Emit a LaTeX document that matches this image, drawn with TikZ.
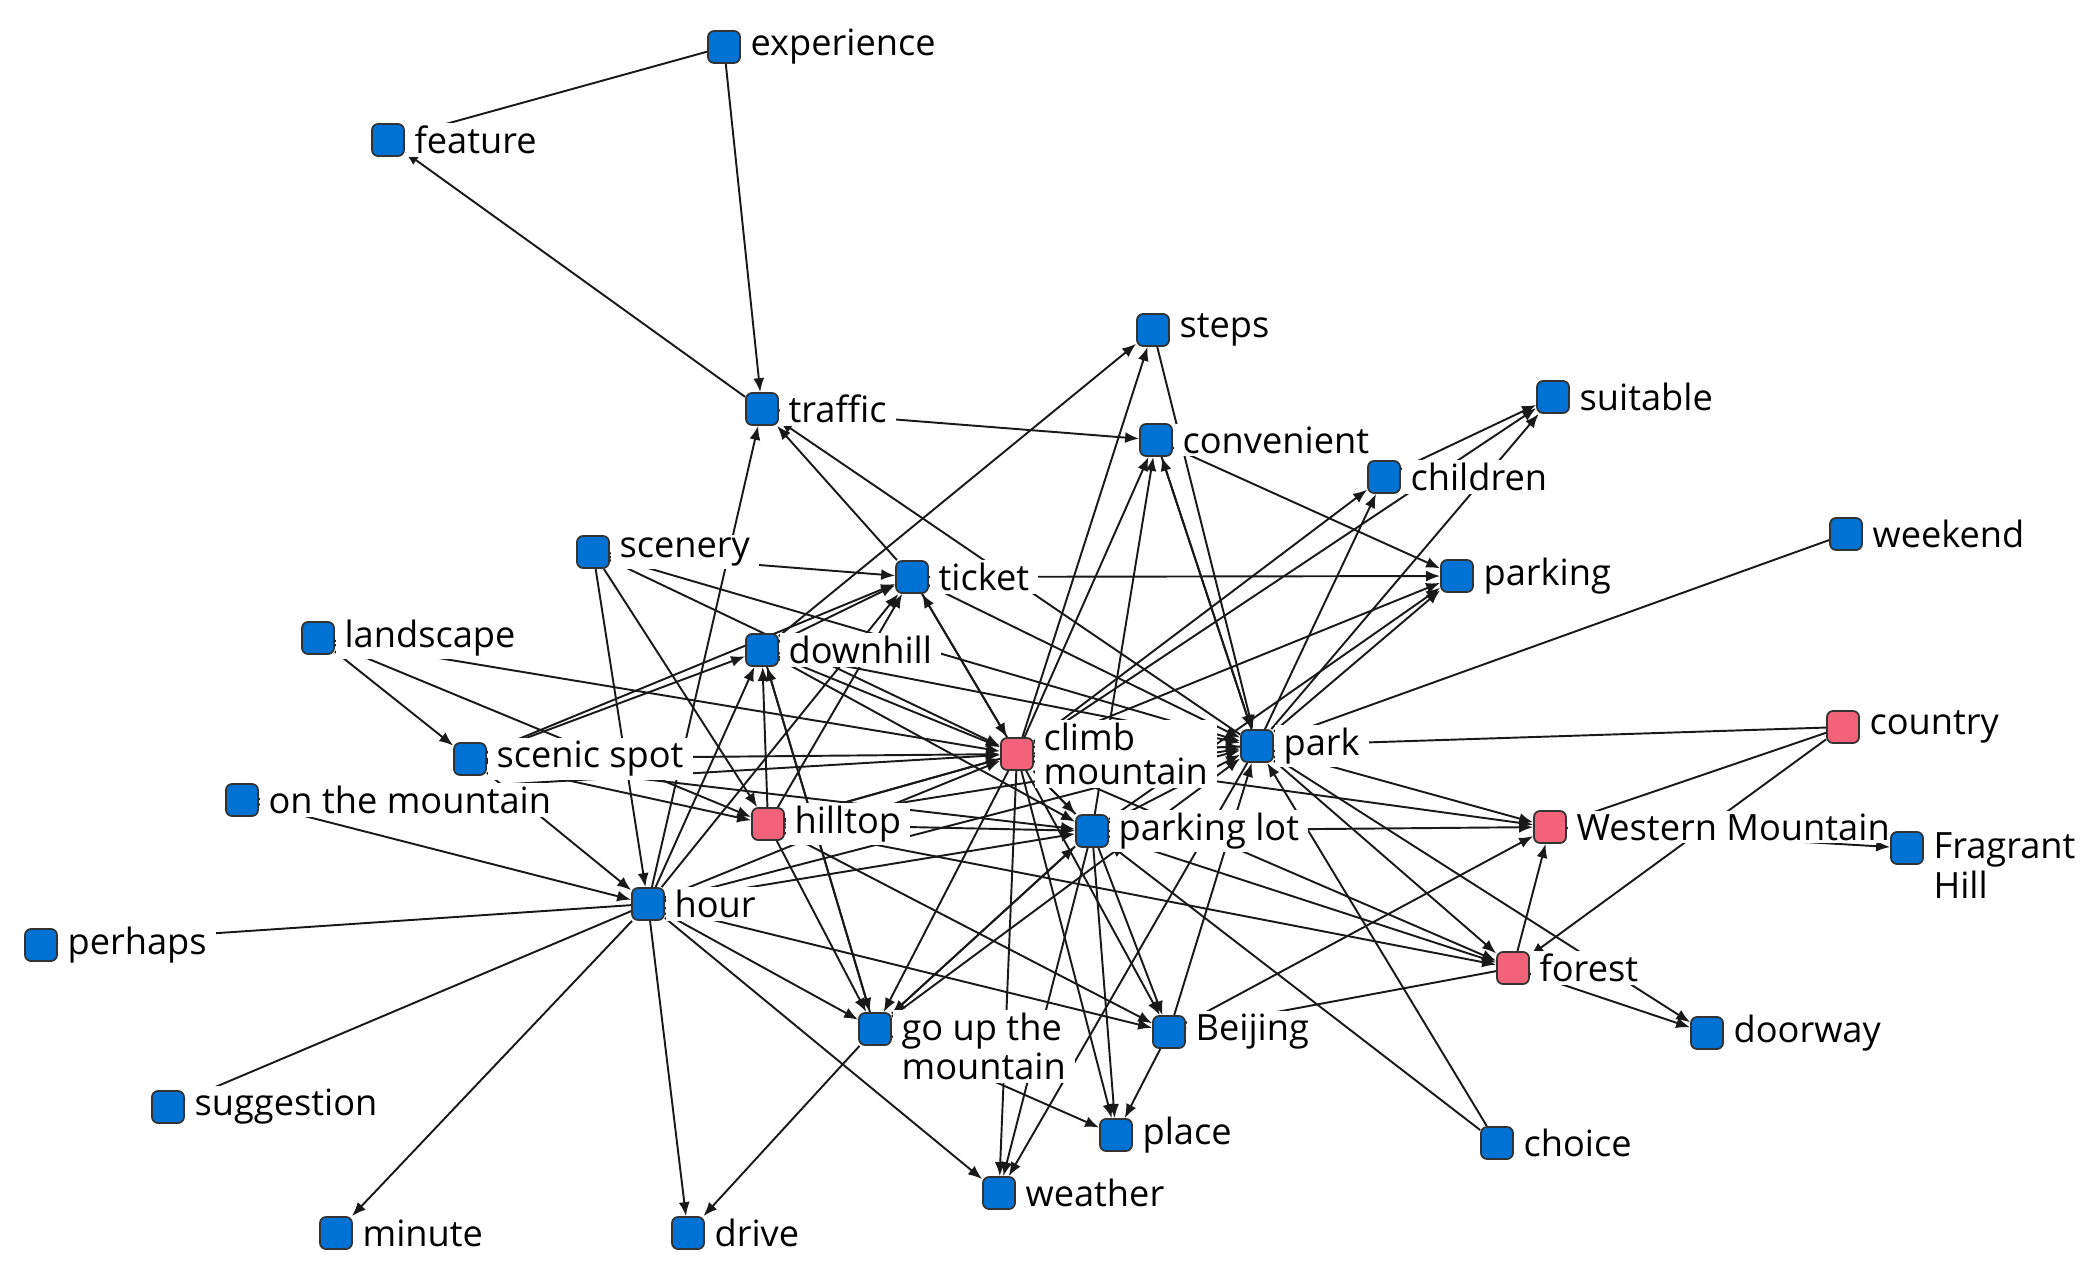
\documentclass[tikz,border=0pt]{standalone}
\usepackage{fontspec}
\setmainfont{Open Sans}
\usepackage{tikz}
\usetikzlibrary{arrows.meta,backgrounds}
\definecolor{termblue}{RGB}{0,114,212}
\definecolor{termpink}{RGB}{242,98,120}
\newcommand{\termfont}{\fontsize{10.3}{9.8}\selectfont}
\tikzset{
  termbox/.style={
    draw=black!80,line width=0.5pt,rounded corners=0.6mm,
    minimum size=3.2mm,inner sep=0pt
  },
  blueterm/.style={termbox,fill=termblue},
  pinkterm/.style={termbox,fill=termpink},
  termlabel/.style={fill=white,inner xsep=0.9mm,inner ysep=0.3mm,font=\termfont,align=left},
  twoline/.style={termlabel,yshift=-1.75mm},
  netarrow/.style={-{Latex[length=1.4mm,width=1.1mm]},line width=0.55pt,draw=black!90}
}
\begin{document}
\begin{tikzpicture}[x=0.1mm,y=-0.1mm]
  \useasboundingbox (0,0) rectangle (2088,1281);
  \node[blueterm,label={[termlabel]right:experience}] (experience) at (724,47) {};
  \node[blueterm,label={[termlabel]right:feature}] (feature) at (388,140) {};
  \node[blueterm,label={[termlabel]right:traffic}] (traffic) at (762,409) {};
  \node[blueterm,label={[termlabel]right:steps}] (steps) at (1153,330) {};
  \node[blueterm,label={[termlabel]right:convenient}] (convenient) at (1156,440) {};
  \node[blueterm,label={[termlabel]right:suitable}] (suitable) at (1553,397) {};
  \node[blueterm,label={[termlabel]right:children}] (children) at (1384,477) {};
  \node[blueterm,label={[termlabel]right:weekend}] (weekend) at (1846,534) {};
  \node[blueterm,label={[termlabel]right:parking}] (parking) at (1457,576) {};
  \node[blueterm,label={[termlabel]right:scenery}] (scenery) at (593,552) {};
  \node[blueterm,label={[termlabel]right:ticket}] (ticket) at (912,577) {};
  \node[blueterm,label={[termlabel]right:landscape}] (landscape) at (318,638) {};
  \node[blueterm,label={[termlabel]right:downhill}] (downhill) at (762,650) {};
  \node[pinkterm,label={[termlabel]right:climb\\mountain}] (climb) at (1017,754) {};
  \node[blueterm,label={[termlabel]right:park}] (park) at (1257,746) {};
  \node[pinkterm,label={[termlabel]right:country}] (country) at (1843,727) {};
  \node[blueterm,label={[termlabel]right:scenic spot}] (spot) at (470,759) {};
  \node[blueterm,label={[termlabel]right:on the mountain}] (onmountain) at (242,800) {};
  \node[pinkterm,label={[termlabel]right:hilltop}] (hilltop) at (768,824) {};
  \node[blueterm,label={[termlabel]right:parking lot}] (lot) at (1092,831) {};
  \node[pinkterm,label={[termlabel]right:Western Mountain}] (western) at (1550,827) {};
  \node[blueterm,label={[twoline]right:Fragrant\\Hill}] (fragrant) at (1907,848) {};
  \node[blueterm,label={[termlabel]right:hour}] (hour) at (648,904) {};
  \node[blueterm,label={[termlabel]right:perhaps}] (perhaps) at (41,945) {};
  \node[pinkterm,label={[termlabel]right:forest}] (forest) at (1513,968) {};
  \node[blueterm,label={[twoline]right:go up the\\mountain}] (goup) at (875,1029) {};
  \node[blueterm,label={[termlabel]right:Beijing}] (beijing) at (1169,1032) {};
  \node[blueterm,label={[termlabel]right:doorway}] (doorway) at (1707,1033) {};
  \node[blueterm,label={[termlabel]right:suggestion}] (suggestion) at (168,1107) {};
  \node[blueterm,label={[termlabel]right:choice}] (choice) at (1497,1143) {};
  \node[blueterm,label={[termlabel]right:place}] (place) at (1116,1135) {};
  \node[blueterm,label={[termlabel]right:minute}] (minute) at (336,1233) {};
  \node[blueterm,label={[termlabel]right:drive}] (drive) at (688,1233) {};
  \node[blueterm,label={[termlabel]right:weather}] (weather) at (999,1193) {};

  \begin{scope}[on background layer]
  \draw[netarrow] (experience)--(feature); \draw[netarrow] (traffic)--(feature);
  \draw[netarrow] (experience)--(traffic); \draw[netarrow] (traffic)--(convenient);
  \draw[netarrow] (hour)--(traffic); \draw[netarrow] (ticket)--(traffic);
  \draw[netarrow] (park)--(traffic);
  \draw[netarrow] (downhill)--(steps); \draw[netarrow] (climb)--(steps);
  \draw[netarrow] (steps)--(park);
  \draw[netarrow] (climb)--(convenient); \draw[netarrow] (lot)--(convenient);
  \draw[netarrow] (park)--(convenient); \draw[netarrow] (convenient)--(park);
  \draw[netarrow] (convenient)--(parking);
  \draw[netarrow] (children)--(suitable); \draw[netarrow] (climb)--(suitable);
  \draw[netarrow] (park)--(suitable);
  \draw[netarrow] (climb)--(children); \draw[netarrow] (park)--(children);
  \draw[netarrow] (ticket)--(parking); \draw[netarrow] (climb)--(parking);
  \draw[netarrow] (lot)--(parking); \draw[netarrow] (park)--(parking);
  \draw[netarrow] (weekend)--(park); \draw[netarrow] (country)--(park);
  \draw[netarrow] (country)--(western); \draw[netarrow] (country)--(forest);
  \draw[netarrow] (scenery)--(hour); \draw[netarrow] (scenery)--(hilltop);
  \draw[netarrow] (scenery)--(ticket); \draw[netarrow] (scenery)--(park);
  \draw[netarrow] (scenery)--(climb);
  \draw[netarrow] (landscape)--(spot); \draw[netarrow] (landscape)--(hilltop);
  \draw[netarrow] (landscape)--(climb);
  \draw[netarrow] (spot)--(hour); \draw[netarrow] (spot)--(downhill);
  \draw[netarrow] (spot)--(ticket); \draw[netarrow] (spot)--(hilltop);
  \draw[netarrow] (spot)--(climb); \draw[netarrow] (spot)--(lot);
  \draw[netarrow] (onmountain)--(hour); \draw[netarrow] (onmountain)--(climb);
  \draw[netarrow] (hour)--(perhaps); \draw[netarrow] (hour)--(suggestion);
  \draw[netarrow] (hour)--(minute); \draw[netarrow] (hour)--(drive);
  \draw[netarrow] (hour)--(goup); \draw[netarrow] (hour)--(weather);
  \draw[netarrow] (hour)--(beijing); \draw[netarrow] (hour)--(downhill);
  \draw[netarrow] (hour)--(ticket); \draw[netarrow] (hour)--(climb);
  \draw[netarrow] (hour)--(lot); \draw[netarrow] (hour)--(park);
  \draw[netarrow] (downhill)--(ticket); \draw[netarrow] (downhill)--(climb);
  \draw[netarrow] (downhill)--(park); \draw[netarrow] (downhill)--(lot);
  \draw[netarrow] (downhill)--(goup);
  \draw[netarrow] (hilltop)--(downhill); \draw[netarrow] (hilltop)--(goup);
  \draw[netarrow] (hilltop)--(beijing); \draw[netarrow] (hilltop)--(lot);
  \draw[netarrow] (hilltop)--(climb); \draw[netarrow] (hilltop)--(park);
  \draw[netarrow] (hilltop)--(ticket); \draw[netarrow] (hilltop)--(forest);
  \draw[netarrow] (ticket)--(climb); \draw[netarrow] (climb)--(ticket);
  \draw[netarrow] (ticket)--(park);
  \draw[netarrow] (climb)--(park); \draw[netarrow] (climb)--(western);
  \draw[netarrow] (climb)--(forest); \draw[netarrow] (climb)--(lot);
  \draw[netarrow] (climb)--(goup); \draw[netarrow] (climb)--(weather);
  \draw[netarrow] (climb)--(place); \draw[netarrow] (climb)--(beijing);
  \draw[netarrow] (climb)--(hilltop);
  \draw[netarrow] (park)--(climb); \draw[netarrow] (park)--(western);
  \draw[netarrow] (park)--(forest); \draw[netarrow] (park)--(doorway);
  \draw[netarrow] (park)--(weather);
  \draw[netarrow] (lot)--(western); \draw[netarrow] (lot)--(forest);
  \draw[netarrow] (lot)--(place); \draw[netarrow] (lot)--(beijing);
  \draw[netarrow] (lot)--(weather); \draw[netarrow] (lot)--(goup);
  \draw[netarrow] (lot)--(climb); \draw[netarrow] (lot)--(park);
  \draw[netarrow] (western)--(fragrant); \draw[netarrow] (forest)--(western);
  \draw[netarrow] (forest)--(doorway); \draw[netarrow] (forest)--(beijing);
  \draw[netarrow] (beijing)--(western); \draw[netarrow] (beijing)--(park);
  \draw[netarrow] (beijing)--(place);
  \draw[netarrow] (goup)--(drive); \draw[netarrow] (goup)--(place);
  \draw[netarrow] (goup)--(park); \draw[netarrow] (goup)--(lot);
  \draw[netarrow] (goup)--(downhill);
  \draw[netarrow] (choice)--(park); \draw[netarrow] (choice)--(lot);
  \end{scope}
\end{tikzpicture}
\end{document}
